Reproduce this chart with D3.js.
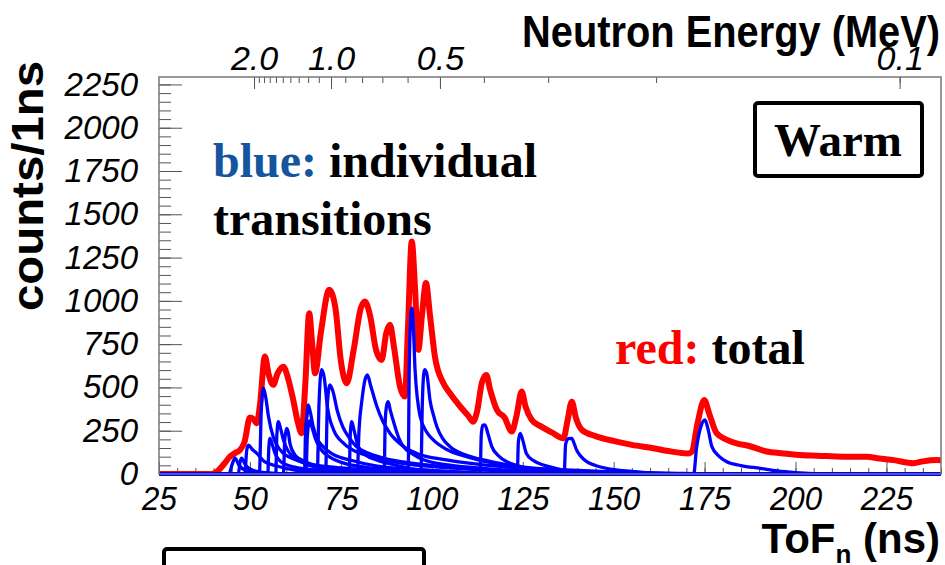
<!DOCTYPE html>
<html>
<head>
<meta charset="utf-8">
<script src="https://cdn.jsdelivr.net/npm/d3@7"></script>
<style>
  body { margin: 0; background: #fff; }
  svg { display: block; }
  .tick text { font-family: "Liberation Sans", Arial, sans-serif; font-style: italic; fill: #000; }
  .tick line { stroke: #555; }
</style>
</head>
<body>
<svg id="chart" width="945" height="565"></svg>
<script>
// ---- data ----
const tofTicks = [25, 50, 75, 100, 125, 150, 175, 200, 225];
const countTicks = [0, 250, 500, 750, 1000, 1250, 1500, 1750, 2000, 2250];
const energyLabels = [2.0, 1.0, 0.5, 0.1];
const energyTicks = [2.0, 1.9, 1.8, 1.7, 1.6, 1.5, 1.4, 1.3, 1.2, 1.1, 1.0, 0.9, 0.8, 0.7, 0.6, 0.5, 0.4, 0.3, 0.2, 0.1];

// red: total  [ToF ns, counts]
const totalCounts = [
  [25, 0], [39.5, 0], [41, 15], [43, 61], [44.5, 100], [46, 122], [47.3, 139], [48.5, 184], [50, 326], [51, 316],
  [51.9, 293], [52.8, 408], [54.1, 678], [55.2, 571], [56.4, 515], [57.6, 581], [59.2, 620], [60.5, 551], [61.9, 428],
  [63.2, 296], [64.2, 236], [65.2, 510], [66.3, 929], [67.1, 755], [67.9, 582], [69.5, 816], [71.8, 1064], [73.5, 959],
  [75, 653], [76.6, 524], [78.5, 714], [80.5, 959], [81.6, 997], [83, 918], [84.7, 714], [86.2, 659], [87.5, 816],
  [88.5, 862], [89.6, 734], [91.2, 510], [92.6, 447], [93.4, 816], [94.5, 1343], [95.4, 1071], [96.3, 717], [97.3, 918],
  [98.4, 1103], [99.5, 918], [100.9, 673], [103.2, 524], [105, 466], [107.8, 390], [110, 337], [111.4, 302], [112.5, 367],
  [113.8, 530], [115, 572], [116, 490], [117.9, 370], [120, 326], [122, 245], [123.3, 337], [124.7, 476], [125.8, 388],
  [127.5, 312], [130, 275], [133, 240], [136.2, 206], [137.3, 306], [138.5, 418], [139.6, 326], [141.3, 254], [145, 219],
  [150.8, 187], [155, 168], [160.9, 149], [165, 133], [170.5, 119], [171.5, 128], [173, 286], [174.9, 428], [176.3, 347],
  [178.3, 236], [181, 199], [183.8, 177], [187, 163], [192.1, 130], [196, 120], [201.2, 110], [206, 106], [213.2, 100],
  [219.6, 100], [223, 90], [227, 80], [232.4, 62], [235, 73], [238.8, 81], [240, 80]
];

// blue: individual transitions, one list per transition  [ToF ns, counts]
const transitions = [
  [[44.2, 0], [45.2, 61], [45.9, 91], [47, 51], [49, 20], [53, 8], [60, 0]],
  [[46.8, 0], [47.3, 71], [47.7, 91], [48.8, 51], [51, 20], [56, 5], [62, 0]],
  [[48.6, 0], [49.1, 133], [49.6, 167], [50.6, 143], [51.9, 119], [54, 71], [57.4, 46], [63, 20], [75, 5], [90, 0]],
  [[52.6, 0], [53.1, 357], [53.7, 496], [54.3, 449], [55.1, 332], [56.4, 215], [57.5, 163], [59.2, 119], [62, 87],
   [66.5, 56], [72, 41], [77.5, 31], [90, 15], [110, 5], [130, 0]],
  [[54.9, 0], [55.2, 153], [55.5, 206], [56.1, 173], [56.9, 119], [58.5, 71], [62, 41], [70, 20], [85, 5], [100, 0]],
  [[57.1, 0], [57.4, 224], [57.8, 302], [58.4, 265], [59.2, 197], [60.5, 133], [61.9, 100], [65, 61], [68, 41], [78, 20],
   [95, 5], [110, 0]],
  [[59.2, 0], [59.6, 204], [60.1, 264], [60.6, 235], [61, 177], [62.3, 112], [63.7, 87], [67, 56], [70, 41], [80, 20],
   [100, 5], [115, 0]],
  [[65, 0], [65.3, 255], [65.7, 337], [66, 399], [66.6, 357], [67.4, 273], [68.5, 204], [70.1, 158], [73, 112], [77.5, 81],
   [85, 46], [100, 20], [125, 0]],
  [[65.4, 0], [65.8, 224], [66.4, 306], [67, 275], [68, 204], [69.5, 143], [72, 97], [76, 61], [85, 31], [100, 10], [120, 0]],
  [[68.5, 0], [69, 408], [69.7, 602], [70.4, 560], [71.3, 388], [73, 255], [76, 173], [80, 122], [85, 92], [92, 61],
   [105, 36], [125, 15], [145, 0]],
  [[70.8, 0], [71.3, 408], [72, 515], [72.8, 479], [74, 367], [75.5, 273], [77.5, 204], [79.3, 158], [83, 117], [86.7, 92],
   [95, 61], [105, 39], [120, 18], [145, 0]],
  [[77.3, 0], [77.6, 235], [78, 302], [78.6, 255], [79.8, 158], [82, 107], [84.8, 81], [90, 51], [94, 31], [105, 15], [120, 0]],
  [[79.5, 0], [80, 255], [80.8, 428], [81.6, 541], [82.3, 572], [83.2, 510], [84.9, 390], [86.5, 306], [88.5, 235],
   [92, 163], [95.9, 119], [104, 82], [115, 51], [130, 26], [150, 8], [165, 0]],
  [[86.9, 0], [87.2, 306], [87.6, 398], [88, 418], [88.6, 367], [89.9, 273], [91, 204], [92.2, 158], [95, 112], [97.7, 82],
   [105, 51], [115, 31], [130, 12], [145, 0]],
  [[93.5, 0], [93.8, 612], [94.2, 898], [94.5, 958], [94.9, 867], [95.4, 602], [96.8, 332], [98.5, 245], [100.4, 197],
   [104, 143], [109.6, 100], [115, 71], [121.5, 42], [130, 31], [137, 23], [150, 12], [165, 5], [180, 0]],
  [[97, 0], [97.4, 408], [97.8, 581], [98.1, 602], [98.7, 571], [99.5, 428], [100.5, 337], [101.4, 273], [103, 204],
   [105, 158], [109, 112], [114.2, 81], [120, 56], [128, 33], [140, 15], [155, 5], [170, 0]],
  [[113.3, 0], [113.6, 224], [114, 281], [114.6, 284], [115.4, 235], [116.5, 158], [118.5, 102], [120.6, 71], [124, 46],
   [128, 22], [135, 8], [145, 0]],
  [[123.5, 0], [123.8, 184], [124.3, 235], [124.9, 204], [126, 119], [128, 77], [130.7, 52], [134, 33], [137, 20],
   [145, 5], [155, 0]],
  [[136.4, 0], [136.8, 173], [137.6, 204], [138.5, 206], [139.2, 173], [139.8, 139], [141, 102], [142.6, 71], [145, 49],
   [148, 33], [155, 15], [165, 0]],
  [[172, 0], [172.8, 153], [174, 275], [175.1, 312], [176, 255], [177, 158], [179, 102], [181.1, 71], [185, 49],
   [190.3, 33], [195, 18], [200, 8], [210, 0]]
];

// ---- layout ----
const frame = { left: 159, right: 941, top: 77, bottom: 474 };
const tofToEnergy = t => Math.pow(72.3 / t, 2);   // 1 m flight path, MeV

const svg = d3.select('#chart');

const x = d3.scaleLinear().domain([25, 240]).range([frame.left, frame.right]);
const y = d3.scaleLinear().domain([0, 2293]).range([frame.bottom, frame.top]);
const eScale = d3.scalePow().exponent(-0.5)
  .domain([tofToEnergy(25), tofToEnergy(240)])
  .range([frame.left, frame.right]);

svg.append('defs').append('clipPath').attr('id', 'plotClip')
  .append('rect')
  .attr('x', frame.left).attr('y', frame.top)
  .attr('width', frame.right - frame.left).attr('height', frame.bottom - frame.top + 2);

// axes
const fmtE = d3.format('.1f');

svg.append('g').attr('transform', `translate(0,${frame.bottom})`)
  .call(d3.axisBottom(x).tickValues(d3.range(25, 241, 5)).tickSize(-6).tickFormat(''));
const xMajor = svg.append('g').attr('transform', `translate(0,${frame.bottom})`)
  .call(d3.axisBottom(x).tickValues(tofTicks).tickSize(-12).tickPadding(12).tickFormat(d3.format('d')));
xMajor.selectAll('text').style('font-size', '34px').attr('transform', 'scale(0.92,1)');

svg.append('g').attr('transform', `translate(${frame.left},0)`)
  .call(d3.axisLeft(y).tickValues(d3.range(0, 2291, 50)).tickSize(-12).tickFormat(''));
const yMajor = svg.append('g').attr('transform', `translate(${frame.left},0)`)
  .call(d3.axisLeft(y).tickValues(countTicks).tickSize(-23).tickPadding(21).tickFormat(d3.format('d')));
yMajor.selectAll('text').style('font-size', '33px');

svg.append('g').attr('transform', `translate(0,${frame.top})`)
  .call(d3.axisTop(eScale).tickValues(energyTicks).tickSize(-6).tickFormat(''));
const eMajor = svg.append('g').attr('transform', `translate(0,${frame.top})`)
  .call(d3.axisTop(eScale).tickValues(energyLabels).tickSize(-12).tickPadding(7).tickFormat(fmtE));
eMajor.selectAll('text').style('font-size', '34px');

svg.selectAll('.domain').remove();

// curves
const line = d3.line()
  .x(d => x(d[0]))
  .y(d => y(d[1]))
  .curve(d3.curveMonotoneX);

const plot = svg.append('g').attr('clip-path', 'url(#plotClip)');

plot.append('path')
  .datum(totalCounts)
  .attr('d', line)
  .attr('fill', 'none')
  .attr('stroke', '#ff0000')
  .attr('stroke-width', 6)
  .attr('stroke-linejoin', 'round');

plot.selectAll('path.trans')
  .data(transitions)
  .join('path')
  .attr('class', 'trans')
  .attr('d', d => line([[25, 0]].concat(d, [[240, 0]])))
  .attr('fill', 'none')
  .attr('stroke', '#0000ff')
  .attr('stroke-width', 3.3)
  .attr('stroke-linejoin', 'round');

// frame
svg.append('rect')
  .attr('x', frame.left).attr('y', frame.top)
  .attr('width', frame.right - frame.left).attr('height', frame.bottom - frame.top)
  .attr('fill', 'none').attr('stroke', '#777').attr('stroke-width', 1.5);

// titles
const sans = '"Liberation Sans", Arial, Helvetica, sans-serif';
const serif = '"Liberation Serif", "Times New Roman", serif';

svg.append('text')
  .attr('x', 940).attr('y', 47)
  .attr('text-anchor', 'end')
  .attr('font-family', sans).attr('font-weight', 'bold').attr('font-size', 44)
  .attr('textLength', 418).attr('lengthAdjust', 'spacingAndGlyphs')
  .text('Neutron Energy (MeV)');

const tof = svg.append('text')
  .attr('x', 940).attr('y', 553)
  .attr('text-anchor', 'end')
  .attr('font-family', sans).attr('font-weight', 'bold').attr('font-size', 42);
tof.append('tspan').text('ToF');
tof.append('tspan').attr('font-size', 26).attr('dy', 10).text('n');
tof.append('tspan').attr('dy', -10).text(' (ns)');

svg.append('text')
  .attr('transform', 'translate(43,186) rotate(-90)')
  .attr('text-anchor', 'middle')
  .attr('font-family', sans).attr('font-weight', 'bold').attr('font-size', 44)
  .attr('textLength', 250).attr('lengthAdjust', 'spacingAndGlyphs')
  .text('counts/1ns');

// annotations
const blueNote = svg.append('text')
  .attr('x', 213).attr('y', 177)
  .attr('font-family', serif).attr('font-weight', 'bold').attr('font-size', 48);
blueNote.append('tspan').attr('fill', '#14559e').text('blue:');
blueNote.append('tspan').attr('fill', '#000').text(' individual');

svg.append('text')
  .attr('x', 213).attr('y', 235)
  .attr('font-family', serif).attr('font-weight', 'bold').attr('font-size', 48)
  .text('transitions');

const redNote = svg.append('text')
  .attr('x', 615).attr('y', 364)
  .attr('font-family', serif).attr('font-weight', 'bold').attr('font-size', 48);
redNote.append('tspan').attr('fill', '#ff0000').text('red:');
redNote.append('tspan').attr('fill', '#000').text(' total');

svg.append('rect')
  .attr('x', 755).attr('y', 103).attr('width', 167).attr('height', 73).attr('rx', 3)
  .attr('fill', '#fff').attr('stroke', '#000').attr('stroke-width', 4);
svg.append('text')
  .attr('x', 838).attr('y', 156)
  .attr('text-anchor', 'middle')
  .attr('font-family', serif).attr('font-weight', 'bold').attr('font-size', 47)
  .text('Warm');

// empty label box cut by the bottom edge
svg.append('rect')
  .attr('x', 164).attr('y', 549).attr('width', 260).attr('height', 40).attr('rx', 3)
  .attr('fill', 'none').attr('stroke', '#000').attr('stroke-width', 4);
</script>
</body>
</html>
